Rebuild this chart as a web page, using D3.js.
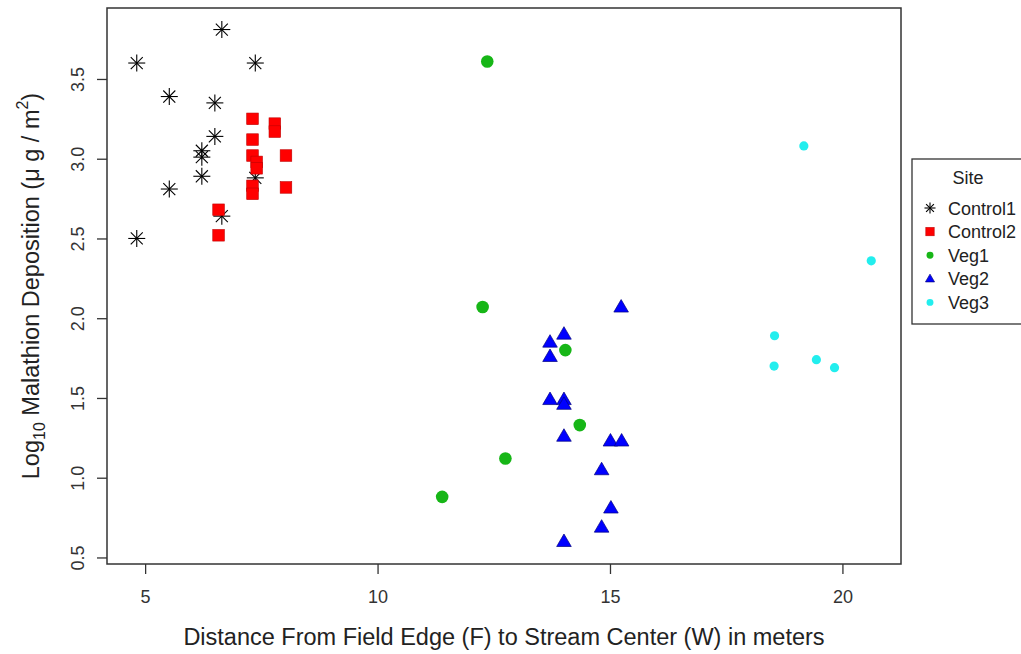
<!DOCTYPE html>
<html>
<head>
<meta charset="utf-8">
<script src="https://cdn.jsdelivr.net/npm/d3@7"></script>
<style>
  html, body { margin: 0; padding: 0; background: #fff; }
  svg { display: block; font-family: "Liberation Sans", Arial, sans-serif; }
</style>
</head>
<body>
<svg id="chart" width="1021" height="654"></svg>
<script>
// Site groups and their measurements: distance (m) and log10 deposition (µg/m²)
const sites = ["Control1", "Control2", "Veg1", "Veg2", "Veg3"];

const control1X = [6.65, 4.82, 7.37, 5.52, 6.50, 6.50, 6.22, 6.22, 6.22, 5.52, 7.37, 6.65, 4.82];
const control1Y = [3.81, 3.60, 3.60, 3.39, 3.35, 3.14, 3.05, 3.01, 2.89, 2.81, 2.88, 2.64, 2.50];

const control2X = [7.31, 7.79, 7.79, 7.31, 7.31, 7.40, 7.40, 8.03, 7.31, 7.31, 8.03, 6.58, 6.58];
const control2Y = [3.25, 3.22, 3.17, 3.12, 3.02, 2.98, 2.94, 3.02, 2.83, 2.78, 2.82, 2.68, 2.52];

const veg1X = [12.36, 12.26, 14.04, 14.35, 12.75, 11.39];
const veg1Y = [3.61, 2.07, 1.80, 1.33, 1.12, 0.88];

const veg2X = [15.24, 14.01, 13.71, 13.71, 13.71, 14.01, 14.01, 14.01, 15.01, 15.25, 14.82, 15.02, 14.82, 14.01];
const veg2Y = [2.07, 1.90, 1.85, 1.76, 1.49, 1.49, 1.46, 1.26, 1.23, 1.23, 1.05, 0.81, 0.69, 0.60];

const veg3X = [19.17, 20.62, 18.54, 18.53, 19.44, 19.83];
const veg3Y = [3.08, 2.36, 1.89, 1.70, 1.74, 1.69];

const xTicks = [5, 10, 15, 20];
const yTicks = [0.5, 1.0, 1.5, 2.0, 2.5, 3.0, 3.5];
const xLimits = [4.18, 21.26];
const yLimits = [0.459, 3.945];

const siteStyle = {
  Control1: { shape: "asterisk", color: "#000000" },
  Control2: { shape: "square",   color: "#ff0000" },
  Veg1:     { shape: "circle",   color: "#17b617" },
  Veg2:     { shape: "triangle", color: "#0000ff" },
  Veg3:     { shape: "smallcircle", color: "#22eeee" }
};

const siteData = {
  Control1: control1X.map((x, i) => ({ x, y: control1Y[i] })),
  Control2: control2X.map((x, i) => ({ x, y: control2Y[i] })),
  Veg1: veg1X.map((x, i) => ({ x, y: veg1Y[i] })),
  Veg2: veg2X.map((x, i) => ({ x, y: veg2Y[i] })),
  Veg3: veg3X.map((x, i) => ({ x, y: veg3Y[i] }))
};

const svg = d3.select("#chart");
const box = { left: 107, right: 901, top: 8, bottom: 564 };

const x = d3.scaleLinear().domain(xLimits).range([box.left, box.right]);
const y = d3.scaleLinear().domain(yLimits).range([box.bottom, box.top]);

// Draws one plotting symbol centred at the origin of group g
function drawSymbol(g, shape, color, scale) {
  const s = scale;
  if (shape === "asterisk") {
    const r = 8.5 * s, d = r * 0.7071;
    const segs = [[-r, 0, r, 0], [0, -r, 0, r], [-d, -d, d, d], [-d, d, d, -d]];
    segs.forEach(p => g.append("line")
      .attr("x1", p[0]).attr("y1", p[1]).attr("x2", p[2]).attr("y2", p[3])
      .attr("stroke", color).attr("stroke-width", 1.1));
  } else if (shape === "square") {
    const h = 5.8 * s;
    g.append("rect").attr("x", -h).attr("y", -h).attr("width", 2 * h).attr("height", 2 * h)
      .attr("fill", color).attr("stroke", "#c00000").attr("stroke-width", 0.6);
  } else if (shape === "circle") {
    g.append("circle").attr("r", 6.3 * s).attr("fill", color);
  } else if (shape === "smallcircle") {
    g.append("circle").attr("r", 4.6 * s).attr("fill", color);
  } else if (shape === "triangle") {
    const w = 7.3 * s, hgt = 12.5 * s;
    g.append("path")
      .attr("d", `M0,${-hgt * 0.6} L${w},${hgt * 0.4} L${-w},${hgt * 0.4} Z`)
      .attr("fill", color).attr("stroke", "#000080").attr("stroke-width", 0.7);
  }
}

// Points
sites.forEach(site => {
  const st = siteStyle[site];
  svg.append("g").attr("class", "site-" + site)
    .selectAll("g")
    .data(siteData[site])
    .join("g")
    .attr("transform", d => `translate(${x(d.x)},${y(d.y)})`)
    .each(function () { drawSymbol(d3.select(this), st.shape, st.color, 1); });
});

// Plot frame
svg.append("rect")
  .attr("x", box.left).attr("y", box.top)
  .attr("width", box.right - box.left).attr("height", box.bottom - box.top)
  .attr("fill", "none").attr("stroke", "#333").attr("stroke-width", 1.5);

// Axes
const xAxis = d3.axisBottom(x).tickValues(xTicks).tickSize(10).tickPadding(16)
  .tickFormat(d3.format("d"));
const gx = svg.append("g").attr("transform", `translate(0,${box.bottom})`).call(xAxis);
gx.select(".domain").remove();
gx.selectAll(".tick line").attr("stroke", "#333").attr("stroke-width", 1.3);
gx.selectAll(".tick text").attr("font-size", 18).attr("fill", "#333")
  .attr("font-family", "Liberation Sans, Arial, sans-serif");

const yAxis = d3.axisLeft(y).tickValues(yTicks).tickSize(10).tickFormat(d3.format(".1f"));
const gy = svg.append("g").attr("transform", `translate(${box.left},0)`).call(yAxis);
gy.select(".domain").remove();
gy.selectAll(".tick line").attr("stroke", "#333").attr("stroke-width", 1.3);
gy.selectAll(".tick text")
  .attr("font-size", 18).attr("fill", "#333")
  .attr("font-family", "Liberation Sans, Arial, sans-serif")
  .attr("x", null).attr("dy", null)
  .attr("text-anchor", "middle")
  .attr("transform", "translate(-23,0) rotate(-90)");

// Axis titles
svg.append("text")
  .attr("x", (box.left + box.right) / 2).attr("y", 645)
  .attr("text-anchor", "middle").attr("font-size", 23.5).attr("fill", "#222")
  .text("Distance From Field Edge (F) to Stream Center (W) in meters");

const yTitle = svg.append("text")
  .attr("transform", `translate(39,${(box.top + box.bottom) / 2}) rotate(-90)`)
  .attr("text-anchor", "middle").attr("font-size", 23.5).attr("fill", "#222");
yTitle.append("tspan").text("Log");
yTitle.append("tspan").attr("font-size", 16).attr("dy", 6).text("10");
yTitle.append("tspan").attr("dy", -6).text(" Malathion Deposition (\u03bc g / m");
yTitle.append("tspan").attr("font-size", 16).attr("dy", -11).text("2");
yTitle.append("tspan").attr("dy", 11).text(")");

// Legend
const legend = svg.append("g").attr("class", "legend");
legend.append("rect")
  .attr("x", 912).attr("y", 159).attr("width", 140).attr("height", 165)
  .attr("fill", "#fff").attr("stroke", "#333").attr("stroke-width", 1.3);
legend.append("text").attr("x", 968).attr("y", 184)
  .attr("text-anchor", "middle").attr("font-size", 18).attr("fill", "#222").text("Site");
const rows = legend.selectAll("g.row").data(sites).join("g").attr("class", "row")
  .attr("transform", (d, i) => `translate(930,${208 + i * 23.6})`);
rows.each(function (d) {
  const g = d3.select(this);
  const st = siteStyle[d];
  const sc = { asterisk: 0.65, square: 0.72, circle: 0.55, triangle: 0.62, smallcircle: 0.75 }[st.shape];
  drawSymbol(g, st.shape, st.color, sc);
  g.append("text").attr("x", 18).attr("y", 6.5).attr("font-size", 18).attr("fill", "#222").text(d);
});
</script>
</body>
</html>
